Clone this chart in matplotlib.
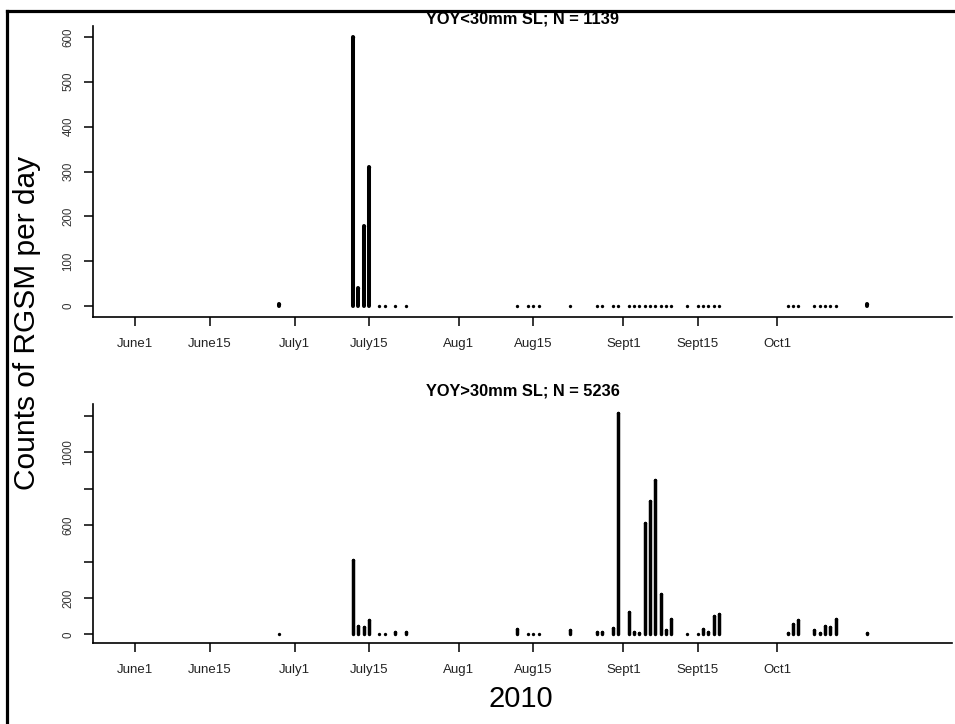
import matplotlib
matplotlib.use("Agg")
import matplotlib.pyplot as plt
from matplotlib.lines import Line2D
import numpy as np

plt.rcParams['font.family'] = ['Liberation Sans', 'DejaVu Sans']

# sampling days (day of year, 2010)
sample_days = [179, 193, 194, 195, 196, 198, 199, 201, 203, 224, 226, 227, 228,
               234, 239, 240, 242, 243, 245, 246, 247, 248, 249, 250, 251, 252,
               253, 256, 258, 259, 260, 261, 262, 275, 276, 277, 280, 281, 282,
               283, 284, 290]

# YOY < 30 mm SL counts per day
small_counts = [5, 600, 40, 178, 310, 0, 0, 0, 0, 0, 0, 0, 0,
                0, 0, 0, 0, 0, 0, 0, 0, 0, 0, 0, 0, 0,
                0, 0, 0, 0, 0, 0, 0, 0, 0, 0, 0, 0, 0,
                0, 0, 6]

# YOY > 30 mm SL counts per day
large_counts = [2, 410, 46, 40, 77, 3, 3, 15, 15, 31, 3, 3, 3,
                24, 12, 12, 33, 1217, 122, 12, 10, 611, 735, 848, 223, 22,
                86, 2, 5, 30, 12, 100, 110, 10, 55, 77, 27, 8, 45,
                43, 86, 8]

xtick_days = [152, 166, 182, 196, 213, 227, 244, 258, 273]
xtick_labels = ['June1', 'June15', 'July1', 'July15', 'Aug1', 'Aug15',
                'Sept1', 'Sept15', 'Oct1']

top_yticks = [0, 100, 200, 300, 400, 500, 600]
top_ylabels = ['0', '100', '200', '300', '400', '500', '600']
bot_yticks = [0, 200, 400, 600, 800, 1000, 1200]
bot_ylabels = ['0', '200', '', '600', '', '1000', '']

titles = ['YOY<30mm SL; N = 1139', 'YOY>30mm SL; N = 5236']

W, H = 955, 724
fig = plt.figure(figsize=(W / 100, H / 100), dpi=100)
fig.patch.set_facecolor('white')

left = 93 / W
width = (952.3 - 93) / W
ax1 = fig.add_axes([left, (H - 317) / H, width, 291 / H])
ax2 = fig.add_axes([left, (H - 643.3) / H, width, (643.3 - 404) / H])

days = np.array(sample_days)
for ax, counts, yt, yl, lw in [(ax1, small_counts, top_yticks, top_ylabels, 2.9),
                               (ax2, large_counts, bot_yticks, bot_ylabels, 2.5)]:
    c = np.array(counts)
    ax.vlines(days, 0, c, colors='black', linewidth=lw, capstyle='round')
    ax.plot(days, c, 'o', color='black', ms=2.4, mew=0)
    m = c.max()
    ax.set_ylim(-0.04 * m, 1.04 * m)
    ax.set_xlim(144, 306)
    for s in ['top', 'right']:
        ax.spines[s].set_visible(False)
    for s in ['left', 'bottom']:
        ax.spines[s].set_linewidth(1.2)
    ax.set_xticks(xtick_days)
    ax.set_xticklabels(xtick_labels, fontsize=9.5, color='#222222')
    ax.set_yticks(yt)
    ax.set_yticklabels(yl, fontsize=8.3, color='#333333', rotation=90,
                       va='center')
    ax.tick_params(axis='x', length=6.5, width=1.1, pad=8.5)
    ax.tick_params(axis='y', length=6.5, width=1.1, pad=7)

fig.text(522.5 / W, 1 - 24 / H, titles[0], ha='center', va='baseline',
         fontsize=11.8, fontweight='bold')
fig.text(522.5 / W, 1 - 395 / H, titles[1], ha='center', va='baseline',
         fontsize=11.8, fontweight='bold')

fig.text(27 / W, 1 - 323 / H, 'Counts of RGSM per day', rotation=90,
         ha='center', va='center', fontsize=21.5)
fig.text(521 / W, 1 - 699 / H, '2010', ha='center', va='center', fontsize=21)

# outer frame (left and top edges visible)
fx = 6.5 / W
fy = 1 - 10.5 / H
fig.add_artist(Line2D([fx, fx], [0, fy], transform=fig.transFigure,
                      color='black', linewidth=2.3, solid_capstyle='projecting'))
fig.add_artist(Line2D([fx, 1], [fy, fy], transform=fig.transFigure,
                      color='black', linewidth=2.3, solid_capstyle='projecting'))

fig.savefig('out.png', dpi=100)
